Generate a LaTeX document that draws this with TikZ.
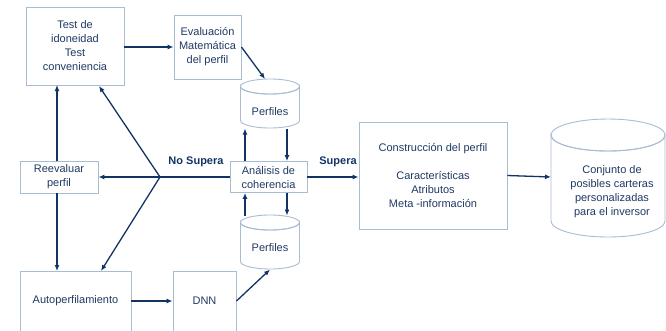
\documentclass[tikz,border=0pt]{standalone}
\usepackage{fontspec}
\setmainfont{Liberation Sans}
\usetikzlibrary{arrows.meta}
\definecolor{txt}{RGB}{32,58,100}
\definecolor{edge}{RGB}{168,188,210}
\definecolor{arr}{RGB}{18,52,100}
\tikzset{
  box/.style={draw=edge, line width=0.9pt, fill=white, text=txt, align=center, font=\fontsize{11}{14}\selectfont, inner sep=0pt},
  conn/.style={draw=arr, line width=1.3pt, -{Latex[length=6pt,width=5pt]}},
  seg/.style={draw=arr, line width=1.3pt},
  lbl/.style={text=arr, font=\bfseries\fontsize{11}{14}\selectfont, inner sep=0pt},
  cyl/.style={draw=edge, line width=0.9pt, fill=white},
  ctext/.style={text=txt, align=center, font=\fontsize{11}{14}\selectfont, inner sep=0pt}
}
\begin{document}
\begin{tikzpicture}[x=1pt,y=-1pt]
\useasboundingbox (0,0) rectangle (666,330);
\clip (0,0) rectangle (666,330);
% boxes
\node[box, minimum width=98pt, minimum height=78pt] (test) at (75,46) {Test de\\idoneidad\\Test\\conveniencia};
\node[box, minimum width=67pt, minimum height=64pt] (eval) at (207.5,47) {Evaluación\\Matemática\\del perfil};
\node[box, minimum width=77pt, minimum height=31pt] (ana) at (268.5,177) {Análisis de\\coherencia};
\node[box, minimum width=78pt, minimum height=32pt] (reev) at (59,177) {Reevaluar\\perfil};
\node[box, minimum width=111pt, minimum height=60pt] (auto) at (75.5,301) {Autoperfilamiento};
\node[box, minimum width=63pt, minimum height=60pt] (dnn) at (204.5,301) {DNN};
\node[box, minimum width=148pt, minimum height=107pt] (cons) at (433,175.5) {Construcción del perfil\\[14pt]Características\\Atributos\\Meta -información};
% cylinders
\path[cyl] (240.5,86.5) arc[start angle=180,end angle=360,x radius=29.5,y radius=-7.5] -- (299.5,120.5) arc[start angle=0,end angle=-180,x radius=29.5,y radius=-7.5] -- cycle;
\draw[edge, line width=0.9pt] (270,86.5) ellipse[x radius=29.5,y radius=7.5];
\node[ctext] (p1) at (270,112) {Perfiles};
\path[cyl] (240.5,222.5) arc[start angle=180,end angle=360,x radius=29.5,y radius=-7.5] -- (299.5,261.5) arc[start angle=0,end angle=-180,x radius=29.5,y radius=-7.5] -- cycle;
\draw[edge, line width=0.9pt] (270,222.5) ellipse[x radius=29.5,y radius=7.5];
\node[ctext] (p2) at (270,248) {Perfiles};
\path[cyl] (551,135) arc[start angle=180,end angle=360,x radius=57,y radius=-16] -- (665,221) arc[start angle=0,end angle=-180,x radius=57,y radius=-16] -- cycle;
\draw[edge, line width=0.9pt] (608,135) ellipse[x radius=57,y radius=16];
\node[ctext] (big) at (612,192) {Conjunto de\\posibles carteras\\personalizadas\\para el inversor};
% coordinates
\coordinate (p1top) at (265,79);
\coordinate (p1bl) at (245,128.5);
\coordinate (p1br) at (287,128.5);
\coordinate (p2tl) at (245,215.5);
\coordinate (p2tr) at (287,215.5);
\coordinate (p2bot) at (270,269.5);
\coordinate (br) at (160,177);
\coordinate (bigin) at (551,177);
% connectors
\draw[conn] (test.east |- eval.west) -- (eval.west);
\draw[conn] (eval.east) -- (p1top);
\draw[conn] (p1bl |- ana.north) -- (p1bl);
\draw[conn] (p1br) -- (p1br |- ana.north);
\draw[conn] (p2tl) -- (p2tl |- ana.south);
\draw[conn] (p2tr |- ana.south) -- (p2tr);
\draw[seg] (ana.west) -- (br);
\draw[conn] (br) -- (reev.east);
\draw[conn] (br) -- (99,86);
\draw[conn] (br) -- (101,271);
\draw[conn] (57,161) -- (57,85);
\draw[conn] (57,193) -- (57,271);
\draw[conn] (auto.east) -- (dnn.west);
\draw[conn] (dnn.east) -- (p2bot);
\draw[conn] (ana.east) -- (cons.west |- ana.east);
\draw[conn] (cons.east) -- (bigin);
% labels
\node[lbl] (nosup) at (196,162) {No Supera};
\node[lbl] (sup) at (338,162) {Supera};
\end{tikzpicture}
\end{document}
